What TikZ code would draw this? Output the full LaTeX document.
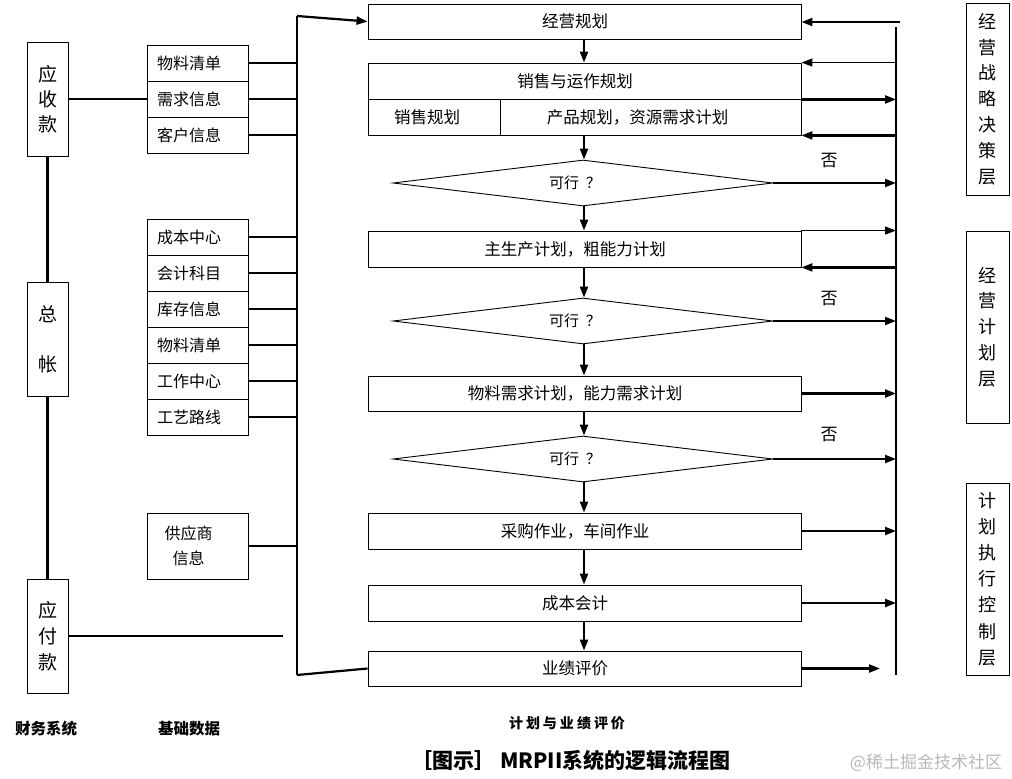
\documentclass[tikz,border=0pt]{standalone}
\usepackage{fontspec}
\setmainfont{Noto Sans CJK SC}
\usetikzlibrary{arrows.meta,shapes.geometric,calc}
\tikzset{
  bx/.style={draw, line width=0.9pt, inner sep=0pt, font=\fontsize{16.5}{18}\selectfont},
  vbx/.style={bx, minimum width=41pt, minimum height=114pt, align=center},
  gbx/.style={bx, font=\fontsize{16}{18}\selectfont, minimum width=101pt, minimum height=36pt, text width=81pt, inner xsep=10pt, align=left},
  cbx/.style={bx, minimum width=433pt, minimum height=36pt, execute at begin node={\hspace*{-19pt}}},
  dia/.style={draw, diamond, line width=0.9pt, inner sep=0pt, aspect=8.26, minimum width=380pt, minimum height=46pt, font=\fontsize{15}{17}\selectfont, execute at begin node={\hspace*{-16pt}}},
  conn/.style={line width=2.2pt},
  thinconn/.style={line width=1.2pt},
  arr/.style={line width=2.2pt, -{Triangle[length=11pt,width=8pt]}},
  thinarr/.style={line width=1.2pt, -{Triangle[length=11pt,width=8pt]}},
  lay/.style={bx, minimum width=43pt, align=center, font=\fontsize{18}{25.8}\selectfont},
  no/.style={font=\fontsize{17}{18}\selectfont},
  foot/.style={font=\bfseries\fontsize{15.5}{17}\selectfont},
}
\begin{document}
\begin{tikzpicture}[x=1pt,y=-1pt]
\useasboundingbox (0,0) rectangle (1012,779);

% ---------- finance system ----------
\node[vbx, font=\fontsize{19}{25}\selectfont] (ysk) at (47.5,99) {应\\收\\款};
\node[vbx, font=\fontsize{19}{50}\selectfont] (zz) at (47.5,339) {总\\帐};
\node[vbx, font=\fontsize{19}{26}\selectfont] (yfk) at (47.5,636) {应\\付\\款};
\draw[conn] (ysk.south) -- (zz.north);
\draw[conn] (zz.south) -- (yfk.north);
\coordinate (yfkend) at (283,636);
\draw[conn] (yfk.east |- yfkend) -- (yfkend);

% ---------- basic data ----------
\node[gbx] (g1a) at (197.5,63) {物料清单};
\node[gbx] (g1b) at (197.5,99) {需求信息};
\node[gbx] (g1c) at (197.5,135) {客户信息};
\node[gbx] (g2a) at (197.5,237) {成本中心};
\node[gbx] (g2b) at (197.5,273) {会计科目};
\node[gbx] (g2c) at (197.5,309) {库存信息};
\node[gbx] (g2d) at (197.5,345) {物料清单};
\node[gbx] (g2e) at (197.5,381) {工作中心};
\node[gbx] (g2f) at (197.5,417) {工艺路线};
\node[bx, font=\fontsize{16}{25}\selectfont, minimum width=101pt, minimum height=66pt, align=center] (g3) at (197.5,546) {\hspace*{-18pt}供应商\\\hspace*{-18pt}信息};
\draw[conn] (ysk.east) -- (g1b.west);

% left bus
\coordinate (lbT) at (297,16);
\coordinate (lbB) at (297,675);
\draw[conn] (lbT) -- (lbB);

% ---------- centre column ----------
\node[cbx, minimum height=35pt] (jy) at (584.5,21.5) {经营规划};
\node[cbx] (xs) at (584.5,81) {销售与运作规划};
\node[bx, minimum width=132pt, minimum height=36pt] (xsl) at (434,117) {\hspace*{-14pt}销售规划};
\node[bx, minimum width=301pt, minimum height=36pt] (xsr) at (650.5,117) {\hspace*{-26pt}产品规划，资源需求计划};
\node[dia] (d1) at (583,183) {可行\hspace{7pt}？};
\node[cbx] (mps) at (584.5,249) {主生产计划，粗能力计划};
\node[dia] (d2) at (583,321) {可行\hspace{7pt}？};
\node[cbx, minimum height=35pt] (mrp) at (584.5,393.5) {物料需求计划，能力需求计划};
\node[dia] (d3) at (583,459) {可行\hspace{7pt}？};
\node[cbx] (cg) at (584.5,531) {采购作业，车间作业};
\node[cbx] (cb) at (584.5,603) {成本会计};
\node[cbx, minimum height=35pt] (yj) at (584.5,668.5) {业绩评价};

\draw[arr] (lbT) -- (jy.west);
\draw[conn] (lbB) -- (yj.west);

\foreach \n in {g1b,g1c,g2a,g2b,g2c,g2d,g2e,g2f,g3}{
  \draw[conn] (\n.east) -- (\n.east -| lbT);
}
\draw[thinconn] (g1a.east) -- (g1a.east -| lbT);

% down arrows
\coordinate (ax) at (584,0);
\draw[arr] (jy.south -| ax) -- (xs.north -| ax);
\draw[arr] (xsr.south -| ax) -- (d1.north -| ax);
\draw[arr] (d1.south -| ax) -- (mps.north -| ax);
\draw[arr] (mps.south -| ax) -- (d2.north -| ax);
\draw[arr] (d2.south -| ax) -- (mrp.north -| ax);
\draw[arr] (mrp.south -| ax) -- (d3.north -| ax);
\draw[arr] (d3.south -| ax) -- (cg.north -| ax);
\draw[arr] (cg.south -| ax) -- (cb.north -| ax);
\draw[arr] (cb.south -| ax) -- (yj.north -| ax);

% right bus
\coordinate (rbT) at (896,27);
\coordinate (rbB) at (896,675);
\draw[conn] (rbT) -- (rbB);
\coordinate (r0) at (900,22);
\draw[arr] (r0) -- (r0 -| jy.east);
\draw[thinarr] (xs.north east -| rbT) -- (xs.north east);
\draw[arr] (xs.south east) -- (xs.south east -| rbT);
\draw[arr] (xsr.south east -| rbT) -- (xsr.south east);
\draw[arr] (d1.east) -- (d1.east -| rbT);
\node[no] (no1) at (829,161) {否};
\draw[thinarr] (mps.north east) -- (mps.north east -| rbT);
\draw[arr] (mps.south east -| rbT) -- (mps.south east);
\draw[arr] (d2.east) -- (d2.east -| rbT);
\node[no] (no2) at (829,299) {否};
\draw[arr] (mrp.east) -- (mrp.east -| rbT);
\draw[arr] (d3.east) -- (d3.east -| rbT);
\node[no] (no3) at (829,435) {否};
\draw[arr] (cg.east) -- (cg.east -| rbT);
\draw[arr] (cb.east) -- (cb.east -| rbT);
\coordinate (yjend) at (880,668.5);
\draw[arr] (yj.east) -- (yjend);

% ---------- layer boxes ----------
\node[lay, minimum height=192pt] (L1) at (987.5,99) {经\\营\\战\\略\\决\\策\\层};
\node[lay, minimum height=192pt] (L2) at (987.5,327) {经\\营\\计\\划\\层};
\node[lay, minimum height=192pt, font=\fontsize{18}{26.2}\selectfont] (L3) at (987.5,579) {计\\划\\执\\行\\控\\制\\层};

% ---------- footer ----------
\node[foot] (f1) at (46,729) {财务系统};
\node[foot] (f2) at (189,729) {基础数据};
\node[foot, font=\bfseries\fontsize{14}{16}\selectfont] (f3) at (567,723) {计\hspace{3pt}划\hspace{3pt}与\hspace{3pt}业\hspace{3pt}绩\hspace{3pt}评\hspace{3pt}价};
\node[font=\bfseries\fontsize{21}{24}\selectfont] (title) at (571,760) {［图示］ MRPII系统的逻辑流程图};
\node[font=\fontsize{17}{20}\selectfont, text=black!28] (wm) at (926,763) {@稀土掘金技术社区};
\end{tikzpicture}
\end{document}
